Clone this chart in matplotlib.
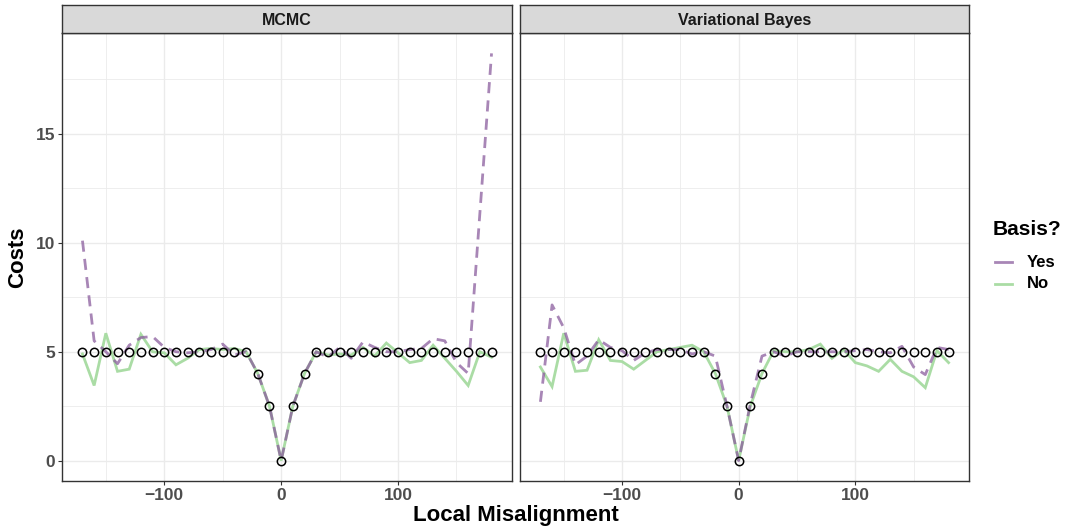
import numpy as np
import matplotlib.pyplot as plt
from matplotlib.lines import Line2D

# misalignment grid and true cost curve
misalignment = np.arange(-170, 190, 10)
true_cost = [5, 5, 5, 5, 5, 5, 5, 5, 5, 5, 5, 5, 5, 5, 5, 4, 2.5, 0,
             2.5, 4, 5, 5, 5, 5, 5, 5, 5, 5, 5, 5, 5, 5, 5, 5, 5, 5]

# MCMC estimates
mcmc_yes = [10.1, 5.5, 5.0, 4.45, 5.3, 5.65, 5.7, 5.2, 5.0, 4.95, 5.0, 5.1,
            5.35, 4.85, 5.0, 4.0, 2.5, 0.0, 2.5, 4.0, 5.0, 4.75, 5.2, 4.7,
            5.45, 5.2, 5.0, 5.0, 5.1, 5.15, 5.6, 5.5, 4.5, 4.0, 11.35, 18.7]
mcmc_no = [4.9, 3.45, 5.85, 4.1, 4.2, 5.8, 5.0, 4.95, 4.4, 4.7, 5.1, 5.15,
           5.1, 5.15, 5.0, 4.0, 2.5, 0.0, 2.5, 4.0, 5.0, 4.85, 4.9, 4.85,
           5.2, 4.8, 5.4, 4.95, 4.5, 4.6, 5.3, 4.7, 4.1, 3.45, 5.0, 4.75]

# Variational Bayes estimates
vb_yes = [2.7, 7.15, 6.1, 4.4, 4.8, 5.55, 5.2, 5.05, 4.6, 4.95, 5.1, 5.1,
          5.1, 4.9, 5.0, 4.8, 2.5, 0.0, 2.6, 4.8, 5.0, 4.8, 5.0, 5.0,
          5.0, 5.0, 5.0, 5.05, 5.1, 5.0, 4.95, 5.25, 4.3, 3.95, 5.2, 5.1]
vb_no = [4.3, 3.4, 5.85, 4.1, 4.15, 5.55, 4.6, 4.55, 4.2, 4.6, 5.0, 5.1,
         5.2, 5.3, 5.0, 4.0, 2.5, 0.0, 2.5, 4.0, 5.05, 5.0, 5.0, 5.1,
         5.35, 4.7, 5.1, 4.5, 4.35, 4.1, 4.65, 4.1, 3.85, 3.35, 5.05, 4.5]

panels = ["MCMC", "Variational Bayes"]
yes_series = [mcmc_yes, vb_yes]
no_series = [mcmc_no, vb_no]
legend_labels = ["Yes", "No"]

col_yes = "#8B5E9E"
col_no = "#A6DBA0"
grid_col = "#EBEBEB"
tick_col = "#4D4D4D"
font = "Liberation Sans"

W, H = 1069, 529
fig = plt.figure(figsize=(W / 100, H / 100), dpi=100)


def frac(x0, y0, x1, y1):
    # pixel box (top-left origin) -> figure fraction rect
    return [x0 / W, 1 - y1 / H, (x1 - x0) / W, (y1 - y0) / H]


# ggplot-style expansion of the shared scales
allx = misalignment
ally = np.concatenate([mcmc_yes, mcmc_no, vb_yes, vb_no, true_cost])
xpad = 0.05 * (allx.max() - allx.min())
ypad = 0.05 * (ally.max() - ally.min())
xlim = (allx.min() - xpad, allx.max() + xpad)
ylim = (ally.min() - ypad, ally.max() + ypad)

boxes = [(62, 512), (520, 969)]
for i, (x0, x1) in enumerate(boxes):
    ax = fig.add_axes(frac(x0, 33, x1, 481))
    ax.set_xlim(xlim)
    ax.set_ylim(ylim)

    ax.set_xticks([-100, 0, 100])
    ax.set_xticks([-150, -50, 50, 150], minor=True)
    ax.set_yticks([0, 5, 10, 15])
    ax.set_yticks([2.5, 7.5, 12.5, 17.5], minor=True)
    ax.grid(True, which="major", color=grid_col, lw=1.0, zorder=0)
    ax.grid(True, which="minor", color=grid_col, lw=0.6, zorder=0)
    ax.set_axisbelow(True)

    ax.tick_params(which="minor", length=0)
    ax.tick_params(which="major", length=3, width=0.8, color="#333333",
                   labelcolor=tick_col, labelsize=12.5, pad=2)
    ax.set_xticklabels(["\u2212100", "0", "100"], fontweight="bold", fontfamily=font)
    if i == 0:
        ax.set_yticklabels(["0", "5", "10", "15"], fontweight="bold", fontfamily=font)
    else:
        ax.tick_params(axis="y", left=False, labelleft=False)

    for sp in ax.spines.values():
        sp.set_color("#333333")
        sp.set_linewidth(1.0)

    ax.plot(misalignment, no_series[i], color=col_no, lw=2.0, alpha=0.95,
            solid_joinstyle="miter", zorder=2)
    ax.plot(misalignment, yes_series[i], color=col_yes, lw=2.0, alpha=0.75,
            ls=(0, (4, 2.6)), zorder=3)
    ax.plot(misalignment, true_cost, ls="none", marker="o", ms=6.0, mfc="none",
            mec="black", mew=1.1, zorder=4)

    # facet strip
    st = fig.add_axes(frac(x0, 5, x1, 33))
    st.set_facecolor("#D9D9D9")
    st.set_xticks([])
    st.set_yticks([])
    for sp in st.spines.values():
        sp.set_color("#333333")
        sp.set_linewidth(1.0)
    st.text(0.5, 0.45, panels[i], transform=st.transAxes, ha="center", va="center",
            fontsize=11.5, fontweight="bold", color="#1A1A1A", fontfamily=font)

fig.text(515.5 / W, 1 - 516 / H, "Local Misalignment", ha="center", va="center",
         fontsize=16, fontweight="bold", fontfamily=font)
fig.text(18 / W, 1 - 257 / H, "Costs", ha="center", va="center", rotation=90,
         fontsize=16, fontweight="bold", fontfamily=font)

# legend, laid out by hand in pixel positions
fig.text(993 / W, 1 - 230 / H, "Basis?", ha="left", va="center",
         fontsize=15, fontweight="bold", fontfamily=font)
key_styles = [(col_yes, 0.75), (col_no, 0.95)]
for k, (lab, (c, a)) in enumerate(zip(legend_labels, key_styles)):
    yk = 1 - (262 + 22 * k) / H
    fig.add_artist(Line2D([995 / W, 1012 / W], [yk, yk], color=c, alpha=a, lw=2.0,
                          transform=fig.transFigure))
    fig.text(1027 / W, yk, lab, ha="left", va="center", fontsize=12,
             fontweight="bold", fontfamily=font)

fig.savefig("out.png", dpi=100)
